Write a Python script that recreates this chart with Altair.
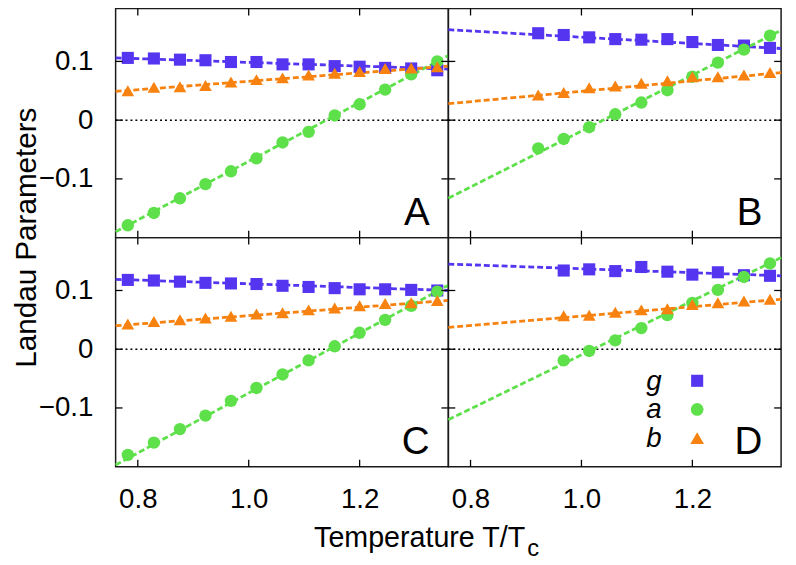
import altair as alt
import pandas as pd

# Reduced temperature grid (T/Tc) shared by all panels
T = [0.782, 0.829, 0.876, 0.922, 0.968, 1.014, 1.061, 1.108, 1.155, 1.200, 1.246, 1.293, 1.340]

# Panel A (13 points)
A_g = [0.106, 0.105, 0.103, 0.102, 0.099, 0.099, 0.095, 0.095, 0.092, 0.091, 0.089, 0.088, 0.085]
A_a = [-0.179, -0.158, -0.133, -0.109, -0.087, -0.065, -0.038, -0.020, 0.008, 0.027, 0.052, 0.078, 0.100]
A_b = [0.050, 0.056, 0.057, 0.059, 0.065, 0.069, 0.072, 0.077, 0.080, 0.083, 0.088, 0.089, 0.091]

# Panel B (10 points, from T[3])
B_g = [0.148, 0.145, 0.141, 0.138, 0.137, 0.138, 0.133, 0.128, 0.127, 0.123]
B_a = [-0.048, -0.032, -0.012, 0.010, 0.030, 0.051, 0.074, 0.098, 0.120, 0.144]
B_b = [0.043, 0.047, 0.055, 0.058, 0.063, 0.067, 0.074, 0.074, 0.077, 0.081]

# Panel C (13 points)
C_g = [0.118, 0.117, 0.115, 0.113, 0.112, 0.111, 0.108, 0.106, 0.104, 0.102, 0.102, 0.101, 0.100]
C_a = [-0.180, -0.159, -0.136, -0.113, -0.088, -0.066, -0.043, -0.019, 0.005, 0.028, 0.050, 0.074, 0.098]
C_b = [0.043, 0.047, 0.050, 0.053, 0.056, 0.060, 0.062, 0.067, 0.070, 0.074, 0.078, 0.079, 0.083]

# Panel D (9 points, from T[4])
D_g = [0.134, 0.136, 0.133, 0.140, 0.132, 0.127, 0.131, 0.126, 0.125]
D_a = [-0.019, -0.003, 0.015, 0.036, 0.058, 0.079, 0.101, 0.123, 0.146]
D_b = [0.057, 0.058, 0.063, 0.067, 0.069, 0.076, 0.079, 0.082, 0.085]

# Linear fits: values at the panel edges T = 0.76 and T = 1.36
FIT_T = [0.76, 1.36]
A_fit = {"g": [0.106, 0.087], "a": [-0.190, 0.110], "b": [0.049, 0.092]}
B_fit = {"g": [0.154, 0.122], "a": [-0.133, 0.153], "b": [0.028, 0.081]}
C_fit = {"g": [0.119, 0.100], "a": [-0.197, 0.109], "b": [0.040, 0.083]}
D_fit = {"g": [0.145, 0.125], "a": [-0.120, 0.156], "b": [0.037, 0.085]}

X_TICKS = [0.8, 1.0, 1.2]
Y_TICKS = [-0.1, 0.0, 0.1]
SERIES = ["g", "a", "b"]
COLORS = ["#5535f0", "#5de04a", "#f7820f"]
SHAPES = ["square", "circle", "triangle-up"]
SIZES = [150, 165, 190]

W, H = 337, 232
FONT = "Liberation Sans"
xs = alt.Scale(domain=[0.76, 1.36], nice=False, zero=False)
ys = alt.Scale(domain=[-0.2, 0.19], nice=False, zero=False)
cscale = alt.Scale(domain=SERIES, range=COLORS)
sscale = alt.Scale(domain=SERIES, range=SHAPES)
zscale = alt.Scale(domain=SERIES, range=SIZES)


def panel(letter, start, g, a, b, fit, left, bottom, legend=False):
    rows = []
    for name, vals in (("g", g), ("a", a), ("b", b)):
        for t, v in zip(T[start:], vals):
            rows.append({"T": t, "v": v, "s": name})
    pts = pd.DataFrame(rows)
    frows = []
    for name in SERIES:
        for t, v in zip(FIT_T, fit[name]):
            frows.append({"T": t, "v": v, "s": name})
    fits = pd.DataFrame(frows)

    if bottom:
        xaxis = alt.Axis(values=X_TICKS, format=".1f", labelFontSize=28, labelFont=FONT,
                         labelColor="black", ticks=False, tickSize=0, domain=False,
                         grid=False, labelPadding=19, title=None, labelFlush=False)
    else:
        xaxis = None
    if left:
        yaxis = alt.Axis(values=Y_TICKS, format=".1~f", labelFontSize=28, labelFont=FONT,
                         labelColor="black", ticks=False, tickSize=0, domain=False,
                         grid=False, labelPadding=23, title=None)
    else:
        yaxis = None

    def X(f):
        return alt.X(f"{f}:Q", scale=xs, axis=xaxis)

    def Y(f):
        return alt.Y(f"{f}:Q", scale=ys, axis=yaxis)

    xt = pd.DataFrame({"xt": X_TICKS})
    yt = pd.DataFrame({"yt": Y_TICKS})
    tick_style = dict(color="black", strokeWidth=1.3)

    layers = [
        alt.Chart(pd.DataFrame({"z": [0.0]})).mark_rule(
            color="black", strokeWidth=1.5, strokeDash=[2, 3]).encode(y=Y("z")),
        alt.Chart(fits).mark_line(strokeWidth=2.8, strokeDash=[6, 3]).encode(
            x=X("T"), y=Y("v"),
            color=alt.Color("s:N", scale=cscale, legend=None), detail="s:N"),
        alt.Chart(pts).mark_point(filled=True, opacity=1).encode(
            x=X("T"), y=Y("v"),
            color=alt.Color("s:N", scale=cscale, legend=None),
            shape=alt.Shape("s:N", scale=sscale, legend=None),
            size=alt.Size("s:N", scale=zscale, legend=None)),
        alt.Chart(xt).mark_rule(**tick_style).encode(x=X("xt"), y=alt.value(0), y2=alt.value(7)),
        alt.Chart(xt).mark_rule(**tick_style).encode(x=X("xt"), y=alt.value(H), y2=alt.value(H - 7)),
        alt.Chart(yt).mark_rule(**tick_style).encode(y=Y("yt"), x=alt.value(0), x2=alt.value(7)),
        alt.Chart(yt).mark_rule(**tick_style).encode(y=Y("yt"), x=alt.value(W), x2=alt.value(W - 7)),
        alt.Chart(pd.DataFrame({"l": [letter]})).mark_text(
            font=FONT, fontSize=39, align="right", baseline="alphabetic", color="black").encode(
            text="l:N", x=alt.value(W - 19), y=alt.value(H - 13)),
    ]
    if letter == "A":
        layers.append(alt.Chart(pd.DataFrame({"t": ["Landau Parameters"]})).mark_text(
            font=FONT, fontSize=30, angle=270, align="center", baseline="middle", color="black").encode(
            text="t:N", x=alt.value(-90), y=alt.value(H)))
    if letter == "C":
        layers.append(alt.Chart(pd.DataFrame({"t": ["Temperature T/T"]})).mark_text(
            font=FONT, fontSize=29, align="left", baseline="alphabetic", color="black").encode(
            text="t:N", x=alt.value(201), y=alt.value(H + 81)))
        layers.append(alt.Chart(pd.DataFrame({"t": ["c"]})).mark_text(
            font=FONT, fontSize=24, align="left", baseline="alphabetic", color="black").encode(
            text="t:N", x=alt.value(417), y=alt.value(H + 90)))
    if legend:
        for i, (name, col, shp, sz) in enumerate(zip(SERIES, COLORS, SHAPES, SIZES)):
            ypos = H - 87 + 29 * i
            layers.append(alt.Chart(pd.DataFrame({"t": [name]})).mark_text(
                font=FONT, fontSize=28, fontStyle="italic", align="right",
                baseline="alphabetic", color="black").encode(
                text="t:N", x=alt.value(W - 121), y=alt.value(ypos + 9)))
            layers.append(alt.Chart(pd.DataFrame({"t": [name]})).mark_point(
                filled=True, opacity=1, size=sz, shape=shp, color=col).encode(
                x=alt.value(W - 85), y=alt.value(ypos)))

    return alt.layer(*layers).properties(width=W, height=H)


pA = panel("A", 0, A_g, A_a, A_b, A_fit, left=True, bottom=False)
pB = panel("B", 3, B_g, B_a, B_b, B_fit, left=False, bottom=False)
pC = panel("C", 0, C_g, C_a, C_b, C_fit, left=True, bottom=True)
pD = panel("D", 4, D_g, D_a, D_b, D_fit, left=False, bottom=True, legend=True)

chart = alt.concat(pA, pB, pC, pD, columns=2, spacing=0, bounds="flush").properties(
    padding={"left": 3, "top": -5, "right": 0, "bottom": 0}
).configure(font=FONT).configure_view(stroke="#1a1a1a", strokeWidth=1.5)

chart.save("out.html", embed_options={"renderer": "svg", "actions": False})
